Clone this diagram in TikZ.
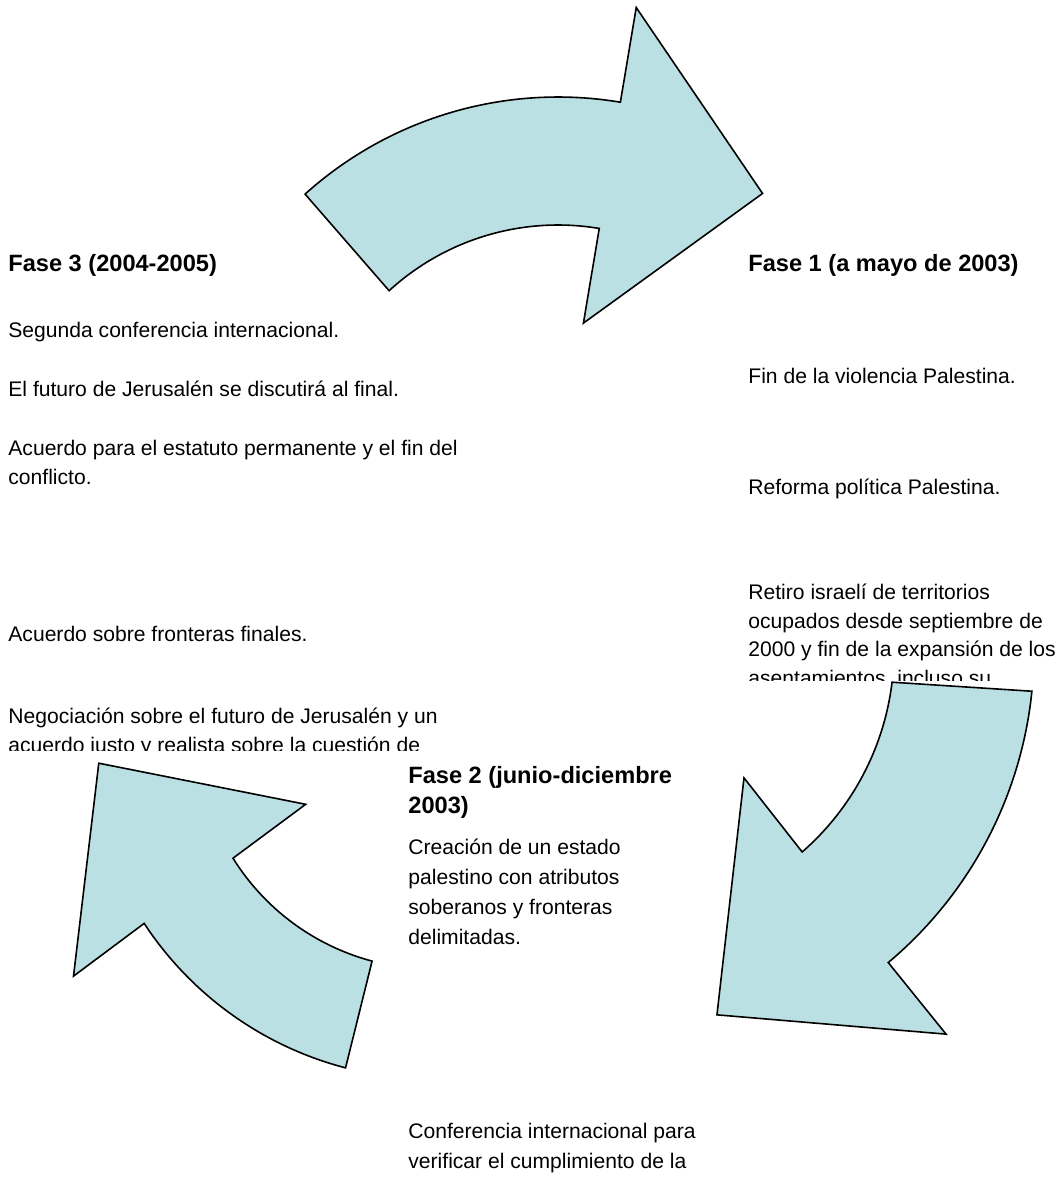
\documentclass[tikz,border=0pt]{standalone}
\usepackage{fontspec}
\setmainfont{Liberation Sans}
\definecolor{azulflecha}{RGB}{187,224,227}

\begin{document}
\begin{tikzpicture}[x=0.5pt,y=-0.5pt]
\tikzset{
  txt/.style={anchor=base west, inner sep=0pt, font=\fontsize{10.55}{12}\selectfont},
  ttl/.style={txt, font=\fontsize{11.8}{13}\selectfont\bfseries},
  flecha/.style={draw=black, line width=0.8pt, fill=azulflecha, line join=miter}
}
\useasboundingbox (0,0) rectangle (1060,1190);

% flecha de arriba
\begin{scope}[shift={(558,475)}]
  \draw[flecha] (-132:378) arc[start angle=-132, end angle=-80.5, radius=378]
    -- (-80.5:474) -- (-54:348) -- (-80.5:154) -- (-80.5:250)
    arc[start angle=-80.5, end angle=-132.5, radius=250] -- cycle;
\end{scope}

% flecha de la derecha
\begin{scope}[shift={(626,650)}]
  \draw[flecha] (5.8:408) arc[start angle=5.8, end angle=50, radius=408]
    -- (50.2:500) -- (76:376) -- (47.3:174) -- (48.9:268)
    arc[start angle=48.9, end angle=6.9, radius=268] -- cycle;
\end{scope}

% flecha de la izquierda
\begin{scope}[shift={(432.5,734)}]
  \draw[flecha] (104.6:345) arc[start angle=104.6, end angle=146.7, radius=345]
    -- (146:433) -- (175:335) -- (151:145) -- (148.1:235)
    arc[start angle=148.1, end angle=104.9, radius=235] -- cycle;
\end{scope}

% Fase 3
\node[ttl] (f3) at (8,271) {Fase 3 (2004-2005)};
\foreach \i/\y/\t in {1/337/{Segunda conferencia internacional.},
    2/396/{El futuro de Jerusalén se discutirá al final.},
    3/455/{Acuerdo para el estatuto permanente y el fin del},
    4/484/{conflicto.},
    5/641/{Acuerdo sobre fronteras finales.},
    6/723/{Negociación sobre el futuro de Jerusalén y un}}
  \node[txt] (f3-\i) at (8,\y) {\t};
\begin{scope}
  \clip (0,700) rectangle (520,750);
  \node[txt] (f3-7) at (8,752) {acuerdo justo y realista sobre la cuestión de};
\end{scope}

% Fase 1
\node[ttl] (f1) at (748,271) {Fase 1 (a mayo de 2003)};
\foreach \i/\y/\t in {1/383/{Fin de la violencia Palestina.},
    2/494/{Reforma política Palestina.},
    3/599/{Retiro israelí de territorios},
    4/628/{ocupados desde septiembre de},
    5/656/{2000 y fin de la expansión de los}}
  \node[txt] (f1-\i) at (748,\y) {\t};
\begin{scope}
  \clip (740,660) rectangle (1060,680);
  \node[txt] (f1-6) at (748,685) {asentamientos, incluso su};
\end{scope}

% Fase 2
\foreach \i/\y/\t in {1/783/{Fase 2 (junio-diciembre},
    2/813/{2003)}}
  \node[ttl] (f2-\i) at (408,\y) {\t};
\foreach \i/\y/\t in {3/854/{Creación de un estado},
    4/884/{palestino con atributos},
    5/914/{soberanos y fronteras},
    6/944/{delimitadas.},
    7/1138/{Conferencia internacional para},
    8/1168/{verificar el cumplimiento de la}}
  \node[txt] (f2-\i) at (408,\y) {\t};
\end{tikzpicture}
\end{document}
